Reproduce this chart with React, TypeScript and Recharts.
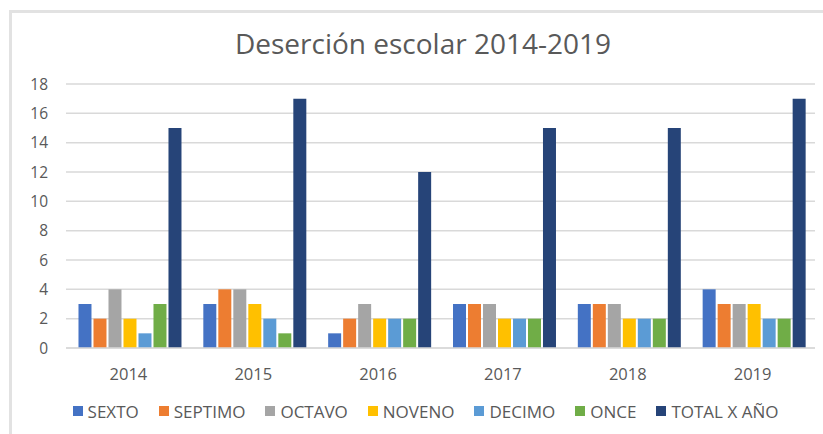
import React from 'react'
import { BarChart, Bar, XAxis, YAxis, CartesianGrid, Legend } from 'recharts'

const years = ['2014', '2015', '2016', '2017', '2018', '2019']
const sexto = [3, 3, 1, 3, 3, 4]
const septimo = [2, 4, 2, 3, 3, 3]
const octavo = [4, 4, 3, 3, 3, 3]
const noveno = [2, 3, 2, 2, 2, 3]
const decimo = [1, 2, 2, 2, 2, 2]
const once = [3, 1, 2, 2, 2, 2]
const total = [15, 17, 12, 15, 15, 17]
const yTicks = [0, 2, 4, 6, 8, 10, 12, 14, 16, 18]

const series = [
  { key: 'SEXTO', values: sexto, color: '#4472C4' },
  { key: 'SEPTIMO', values: septimo, color: '#ED7D31' },
  { key: 'OCTAVO', values: octavo, color: '#A5A5A5' },
  { key: 'NOVENO', values: noveno, color: '#FFC000' },
  { key: 'DECIMO', values: decimo, color: '#5B9BD5' },
  { key: 'ONCE', values: once, color: '#70AD47' },
  { key: 'TOTAL X AÑO', values: total, color: '#264478' },
]

const data = years.map((year, i) => {
  const row: Record<string, string | number> = { year }
  series.forEach((s) => {
    row[s.key] = s.values[i]
  })
  return row
})

const font = "'Open Sans', 'Noto Sans', sans-serif"

function LegendRow() {
  return (
    <div style={{ display: 'flex', justifyContent: 'center', gap: 20, height: 20, alignItems: 'center', paddingLeft: 10 }}>
      {series.map((s) => (
        <div key={s.key} style={{ display: 'flex', alignItems: 'center' }}>
          <span style={{ display: 'inline-block', width: 10, height: 10, background: s.color, marginRight: 5 }} />
          <span style={{ fontSize: 17, color: '#595959' }}>{s.key}</span>
        </div>
      ))}
    </div>
  )
}

export default function App() {
  return (
    <div style={{ position: 'absolute', left: 0, top: 0, width: 823, height: 434, background: '#fff', fontFamily: font }}>
      <div
        style={{
          position: 'absolute',
          left: 9,
          top: 10,
          right: 0,
          bottom: 0,
          borderTop: '3px solid #e2e2e2',
          borderLeft: '3px solid #e2e2e2',
        }}
      />
      <div style={{ position: 'absolute', left: 0, top: 24, width: 846, textAlign: 'center', fontSize: 28, color: '#595959' }}>
        Deserción escolar 2014-2019
      </div>
      <div style={{ position: 'absolute', left: 0, top: 0 }}>
        <BarChart
          width={823}
          height={434}
          data={data}
          margin={{ top: 84, right: 8, bottom: 10, left: 26 }}
          barGap={2}
          barCategoryGap="10%"
        >
          <CartesianGrid vertical={false} stroke="#d9d9d9" strokeWidth={1.5} />
          <XAxis
            dataKey="year"
            axisLine={{ stroke: '#d9d9d9', strokeWidth: 1.5 }}
            tickLine={false}
            tick={{ fontSize: 16.5, fill: '#595959', fontFamily: font }}
            tickMargin={14}
            height={36}
          />
          <YAxis
            domain={[0, 18]}
            ticks={yTicks}
            axisLine={false}
            tickLine={false}
            tick={{ fontSize: 15.5, fill: '#595959', fontFamily: font }}
            tickMargin={12}
            width={40}
          />
          <Legend
            verticalAlign="bottom"
            height={40}
            wrapperStyle={{ top: 401, fontFamily: font }}
            content={() => <LegendRow />}
          />
          {series.map((s) => (
            <Bar key={s.key} dataKey={s.key} fill={s.color} isAnimationActive={false} />
          ))}
        </BarChart>
      </div>
    </div>
  )
}
